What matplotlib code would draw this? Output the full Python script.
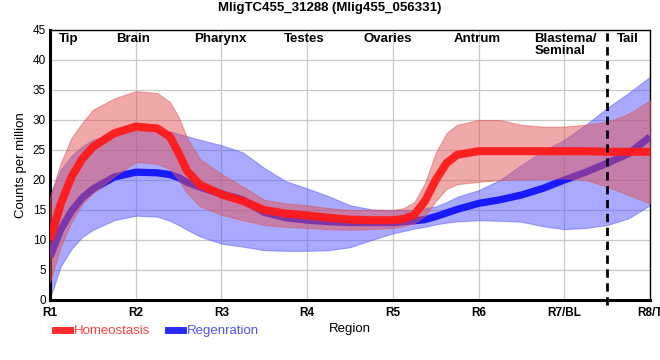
import numpy as np
import matplotlib
matplotlib.use("Agg")
from matplotlib import pyplot as plt
from matplotlib.lines import Line2D

plt.rcParams['font.family'] = ['Liberation Sans', 'DejaVu Sans']

# позиції регіонів, для яких зчитані значення
pos = [1.0, 1.125, 1.25, 1.375, 1.5, 1.75, 2.0, 2.25, 2.4, 2.5, 2.6, 2.75,
       3.0, 3.25, 3.5, 3.75, 4.0, 4.25, 4.5, 4.75, 5.0, 5.125, 5.25, 5.375,
       5.5, 5.625, 5.75, 6.0, 6.25, 6.5, 6.75, 7.0, 7.25, 7.5, 7.75, 8.0]

# Homeostasis
homeo_mean = [10.0, 16.0, 20.5, 23.5, 25.5, 27.8, 28.9, 28.6, 27.2, 24.5, 21.5, 19.2,
              17.6, 16.5, 15.0, 14.4, 14.1, 13.7, 13.4, 13.3, 13.3, 13.5, 14.2, 16.5,
              20.0, 22.8, 24.2, 24.8, 24.8, 24.8, 24.8, 24.8, 24.8, 24.7, 24.7, 24.7]
homeo_hi = [17.2, 22.8, 27.0, 29.5, 31.7, 33.6, 34.8, 34.5, 33.0, 30.5, 27.0, 23.5,
            21.0, 18.9, 16.7, 16.1, 15.8, 15.3, 15.0, 15.0, 15.0, 15.3, 16.3, 19.5,
            24.5, 27.8, 29.2, 30.0, 30.0, 29.2, 28.9, 28.9, 29.2, 29.7, 31.0, 33.3]
homeo_lo = [3.0, 8.9, 13.0, 16.0, 17.8, 20.6, 23.0, 22.7, 21.8, 20.0, 17.8, 15.6,
            14.2, 13.3, 12.5, 12.2, 12.0, 11.8, 11.7, 11.8, 12.0, 12.3, 12.8, 14.0,
            16.5, 18.5, 19.3, 19.7, 20.0, 20.1, 20.2, 20.3, 20.0, 18.9, 17.5, 16.1]

# Regeneration
regen_mean = [7.2, 11.7, 14.8, 17.0, 18.5, 20.5, 21.3, 21.2, 20.9, 20.4, 19.6, 18.8,
              17.7, 16.7, 14.6, 13.7, 13.3, 13.05, 12.9, 12.9, 12.9, 13.05, 13.2, 13.4,
              13.9, 14.5, 15.1, 16.1, 16.7, 17.5, 18.6, 20.0, 21.3, 22.8, 24.4, 27.2]
regen_hi = [17.5, 21.7, 24.0, 25.6, 26.7, 27.8, 28.3, 28.3, 28.1, 27.7, 27.3, 26.7,
            25.8, 24.6, 22.0, 19.8, 18.6, 17.3, 15.8, 15.1, 15.0, 15.0, 15.0, 15.3,
            15.6, 16.3, 17.2, 18.3, 20.0, 22.5, 24.8, 26.7, 29.2, 32.0, 34.5, 37.2]
regen_lo = [0.3, 5.6, 8.5, 10.5, 11.7, 13.3, 14.05, 13.9, 13.2, 12.5, 11.7, 10.6,
            9.4, 8.9, 8.3, 8.2, 8.2, 8.3, 8.8, 10.0, 11.1, 11.5, 11.9, 12.2,
            12.6, 12.9, 13.1, 13.3, 13.2, 13.05, 12.3, 11.8, 12.0, 12.5, 13.6, 15.8]

regions = ['R1', 'R2', 'R3', 'R4', 'R5', 'R6', 'R7/BL', 'R8/T']
tissues = ['Tip', 'Brain', 'Pharynx', 'Testes', 'Ovaries', 'Antrum', 'Blastema/\nSeminal', 'Tail']
tissue_x = [1.22, 1.97, 2.99, 3.96, 4.94, 5.98, 6.65, 7.74]

fig = plt.figure(figsize=(6.6, 3.6), dpi=100)
ax = fig.add_axes([50 / 660, 60 / 360, 600 / 660, 270 / 360])

# смуги та лінії
ax.fill_between(pos, regen_lo, regen_hi, color='#5555ff', alpha=0.5, lw=0.8,
                edgecolor='#5555ff', zorder=2)
ax.plot(pos, regen_mean, color='#1a1aff', lw=5.2, solid_capstyle='butt', zorder=3)
ax.fill_between(pos, homeo_lo, homeo_hi, color='#e05555', alpha=0.5, lw=0.8,
                edgecolor='#e05555', zorder=4)
ax.plot(pos, homeo_mean, color='#ff1a1a', lw=5.8, alpha=0.95, solid_capstyle='butt', zorder=5)

ax.axvline(7.5, ymin=-0.02, ymax=1, color='black', lw=2, ls=(0, (3, 2)),
           clip_on=False, zorder=6)

ax.set_xlim(1, 8)
ax.set_ylim(0, 45)
ax.set_xticks(range(1, 9))
ax.set_xticklabels(regions, fontweight='bold', fontsize=8.5)
ax.set_yticks(range(0, 50, 5))
ax.tick_params(axis='y', labelsize=8.5, length=0, pad=3)
ax.tick_params(axis='x', length=0, pad=5)
ax.grid(True, color='#c8c8c8', lw=0.9)
ax.set_axisbelow(True)

for s in ['left', 'bottom']:
    ax.spines[s].set_linewidth(2.2)
for s in ['top', 'right']:
    ax.spines[s].set_linewidth(1.0)

for t, x in zip(tissues, tissue_x):
    if '\n' in t:
        ax.text(x, 44.5, t, ha='left', va='top', fontweight='bold', fontsize=9.5,
                linespacing=1.0, zorder=7)
    else:
        ax.text(x, 44.5, t, ha='center', va='top', fontweight='bold', fontsize=9.5, zorder=7)

ax.set_ylabel('Counts per million', fontsize=9.5, labelpad=4)
ax.set_xlabel('Region', fontsize=9.5, labelpad=3)
fig.suptitle('MligTC455_31288 (Mlig455_056331)', fontweight='bold', fontsize=9.5, y=0.995)

handles = [Line2D([], [], color='#ff2a2a', lw=5),
           Line2D([], [], color='#2a2aff', lw=5)]
fig.legend(handles, ['Homeostasis', 'Regenration'], loc='center left',
           bbox_to_anchor=(55 / 660, 29 / 360), ncol=2, frameon=False, fontsize=9.5,
           handlelength=1.1, handletextpad=0.3, columnspacing=1.4,
           labelcolor=['#ff4040', '#5050ff'], borderpad=0, borderaxespad=0)

plt.savefig('out.png', dpi=100)
